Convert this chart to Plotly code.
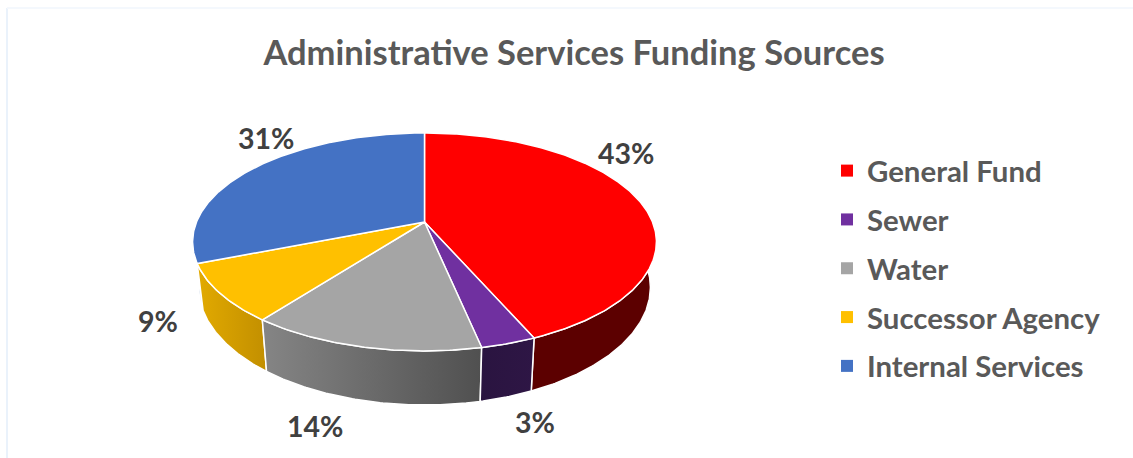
import numpy as np
import plotly.graph_objects as go

# ---- data ----
categories = ["General Fund", "Sewer", "Water", "Successor Agency", "Internal Services"]
shares = [43.45, 3.25, 13.7, 8.6, 31.0]

# ---- styles ----
top_colors = ["#FF0000", "#7030A0", "#A5A5A5", "#FFC000", "#4472C4"]
wall_left = ["#5C0000", "#2A1440", "#858585", "#E2AA00", "#D5DFEE"]
wall_right = ["#5C0000", "#2E1645", "#505050", "#C28F00", "#D5DFEE"]
label_xy = [(626, 153), (535, 422), (314.5, 426), (158, 321), (266, 138)]

# ---- projection of the tilted disc (page-pixel axes) ----
CX, CY, A, B, K = 424.5, 222.0, 228.0, 105.3, 0.183


def top_rim(theta):
    u, v = np.sin(theta), np.cos(theta)
    d = 1 + K * v
    return CX + A * u / d, CY - B * v / d


def bottom_rim(theta):
    x, y = top_rim(theta)
    return CX + (x - CX) * 0.974, y + 47 + (y - 262) * 0.08


fig = go.Figure()
edges = np.cumsum([0] + shares) / sum(shares) * 2 * np.pi
arcs = [np.linspace(edges[i], edges[i + 1], max(8, int(shares[i] * 6))) for i in range(len(shares))]

for i in [4, 0, 3, 2, 1]:
    tx, ty = top_rim(arcs[i])
    bx, by = bottom_rim(arcs[i])
    xs = np.r_[tx, bx[::-1], tx[0]]
    ys = np.r_[ty, by[::-1], ty[0]]
    fig.add_trace(go.Scatter(
        x=xs, y=ys, mode="lines", fill="toself",
        line=dict(color="white", width=1.5),
        fillgradient=dict(type="horizontal",
                          colorscale=[[0, wall_left[i]], [1, wall_right[i]]]),
        hoverinfo="skip", showlegend=False,
    ))

for i, name in enumerate(categories):
    tx, ty = top_rim(arcs[i])
    fig.add_trace(go.Scatter(
        x=np.r_[CX, tx, CX], y=np.r_[CY, ty, CY], mode="lines", fill="toself",
        fillcolor=top_colors[i], line=dict(color="white", width=1.5),
        name=name, legendgroup=name, showlegend=False,
        hovertemplate=f"{name}: {shares[i]:.0f}%<extra></extra>",
    ))

for i, name in enumerate(categories):
    fig.add_trace(go.Scatter(
        x=[None], y=[None], mode="markers", name=name, legendgroup=name,
        marker=dict(symbol="square", size=12, color=top_colors[i]),
    ))

for (lx, ly), s in zip(label_xy, shares):
    fig.add_annotation(x=lx, y=ly, text=f"<b>{s:.0f}%</b>", showarrow=False,
                       font=dict(family="Lato", size=28.5, color="#404040"))

fig.update_layout(
    width=1133, height=458, margin=dict(l=0, r=0, t=0, b=0),
    paper_bgcolor="white", plot_bgcolor="white",
    font=dict(family="Lato"),
    title=dict(text="<b>Administrative Services Funding Sources</b>",
               x=574 / 1133, xanchor="center", y=1 - 53 / 458, yanchor="middle",
               font=dict(family="Lato", size=34.5, color="#595959")),
    xaxis=dict(range=[0, 1133], visible=False, fixedrange=True),
    yaxis=dict(range=[458, 0], visible=False, fixedrange=True),
    legend=dict(x=827 / 1133, xanchor="left", y=1 - 145 / 458, yanchor="top",
                tracegroupgap=7.6, itemsizing="trace", bgcolor="rgba(0,0,0,0)",
                font=dict(family="Lato", size=29.4, color="#595959", weight="bold")),
    shapes=[
        dict(type="line", xref="x", yref="y", x0=7, y0=8, x1=7, y1=458,
             line=dict(color="#EAF2FB", width=2), layer="below"),
        dict(type="line", xref="x", yref="y", x0=7, y0=8, x1=1133, y1=8,
             line=dict(color="#F4F8FD", width=2), layer="below"),
    ],
)

fig.write_html("out.html", post_script="document.body.style.margin='0';",
               config={"displayModeBar": False})
